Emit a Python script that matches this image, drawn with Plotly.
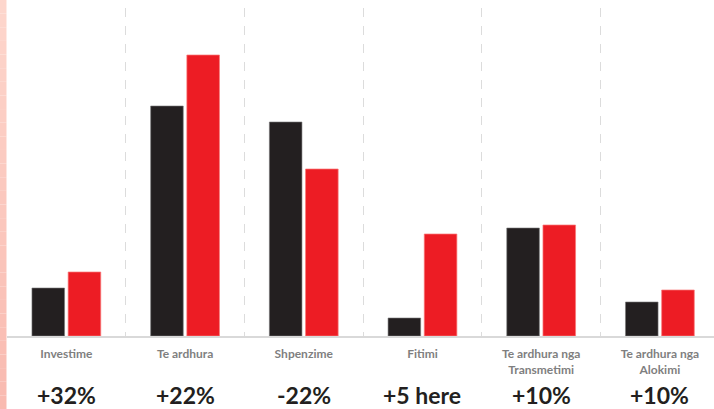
import plotly.graph_objects as go

# Categories (multi-line tick labels) and the two compared series
categories = ["Investime", "Te ardhura", "Shpenzime", "Fitimi",
              "Te ardhura nga<br>Transmetimi", "Te ardhura nga<br>Alokimi"]
previous = [48, 230, 214, 18, 108, 34]
current = [64, 281, 167, 102, 111, 46]
changes = ["+32%", "+22%", "-22%", "+5 here", "+10%", "+10%"]

DARK = "#231f20"
RED = "#ed1c24"

fig = go.Figure()
fig.add_trace(go.Bar(
    x=categories, y=previous, name="2019",
    marker=dict(color=DARK, line=dict(color="rgba(120,120,120,0.6)", width=1)),
))
fig.add_trace(go.Bar(
    x=categories, y=current, name="2020",
    marker=dict(color=RED, line=dict(color="rgba(250,120,120,0.7)", width=1)),
))

# Percent-change labels under each category
for cat, txt in zip(categories, changes):
    fig.add_annotation(
        x=cat, y=-0.181, xref="x", yref="paper", text=txt, showarrow=False,
        yanchor="middle", xanchor="center",
        font=dict(family="Lato", size=23, color=DARK, weight="bold"),
    )

# Pink side strip with a soft vertical gradient
n = 30
top_rgb = (253, 214, 204)
bot_rgb = (249, 186, 176)
for i in range(n):
    t = i / (n - 1)
    c = tuple(round(a + (b - a) * t) for a, b in zip(top_rgb, bot_rgb))
    fig.add_shape(
        type="rect", xref="paper", yref="paper",
        x0=-7 / 707, x1=-0.5 / 707,
        y0=1 + 8 / 328 - (i + 1) * (409 / 328) / n,
        y1=1 + 8 / 328 - i * (409 / 328) / n,
        fillcolor="rgb(%d,%d,%d)" % c, line=dict(width=0), layer="below",
    )

fig.update_layout(
    width=714, height=409,
    margin=dict(l=7, r=0, t=8, b=73),
    paper_bgcolor="white", plot_bgcolor="white",
    showlegend=False,
    barmode="group", bargap=0.39, bargroupgap=0.1,
    xaxis=dict(
        range=[-0.5, 5.456],
        tickson="boundaries", showgrid=True, griddash="dash",
        gridcolor="#dcdcdc", gridwidth=1,
        showline=True, linecolor="#d9d9d9", linewidth=2,
        ticks="", ticklabelstandoff=6,
        tickfont=dict(family="Lato", size=12, color="#7f7f7f", weight="bold"),
    ),
    yaxis=dict(
        range=[0, 328], showgrid=False, zeroline=False,
        showticklabels=False, ticks="",
    ),
)

fig.write_html("out.html")
